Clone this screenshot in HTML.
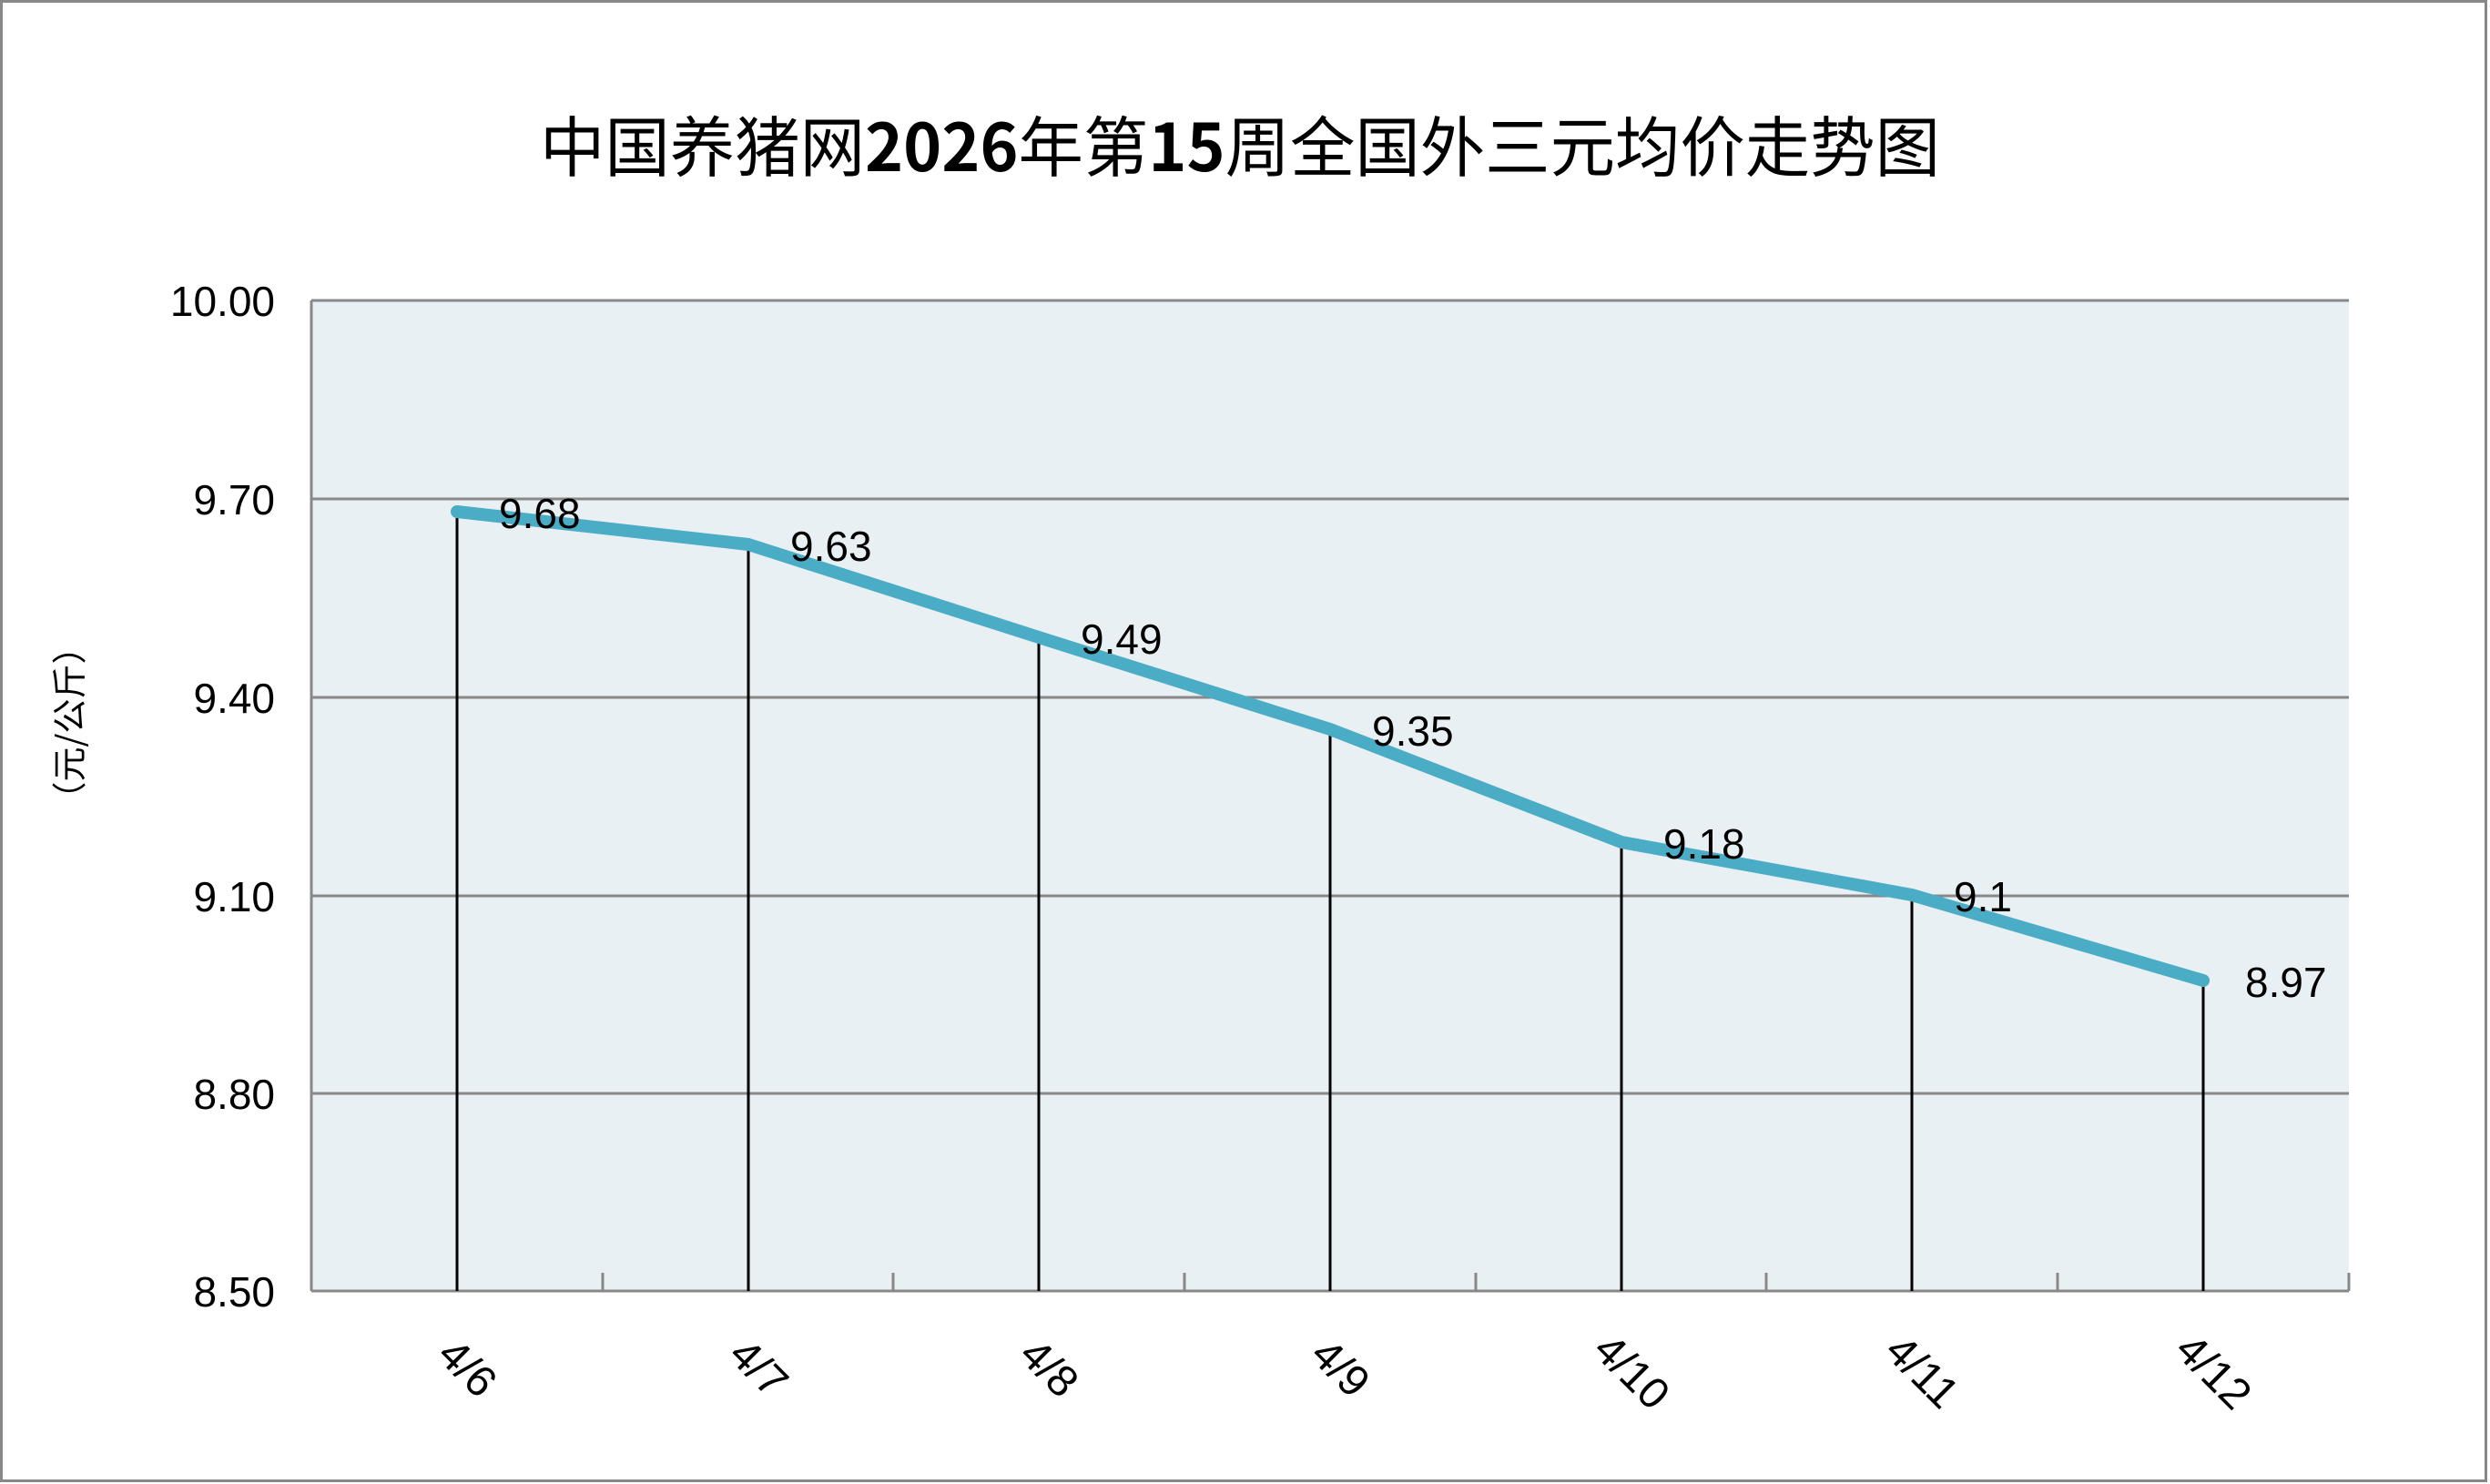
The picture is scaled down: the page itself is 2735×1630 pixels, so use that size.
<!DOCTYPE html>
<html><head><meta charset="utf-8"><style>
html,body{margin:0;padding:0;background:#fff;}
svg{display:block;}
text{font-family:"Liberation Sans","Noto Sans CJK SC",sans-serif;fill:#000;}
</style></head><body>
<svg width="2735" height="1630" viewBox="0 0 2735 1630" xmlns="http://www.w3.org/2000/svg">
<rect x="1.5" y="1.5" width="2729" height="1625" fill="#fff" stroke="#888" stroke-width="3"/>
<text x="1362" y="188" text-anchor="middle" font-size="72" textLength="1538" lengthAdjust="spacingAndGlyphs" style="font-family:'Noto Sans CJK SC',sans-serif">中国养猪网<tspan font-weight="bold">2026</tspan>年第<tspan font-weight="bold">15</tspan>周全国外三元均价走势图</text>
<rect x="342" y="330" width="2238" height="1088" fill="#e8f0f3"/>
<g stroke="#888" stroke-width="3">
<line x1="342" y1="330" x2="2580" y2="330"/>
<line x1="342" y1="548" x2="2580" y2="548"/>
<line x1="342" y1="766" x2="2580" y2="766"/>
<line x1="342" y1="984" x2="2580" y2="984"/>
<line x1="342" y1="1201" x2="2580" y2="1201"/>
<line x1="342" y1="1418" x2="2580" y2="1418"/>
<line x1="342" y1="330" x2="342" y2="1418"/>
<line x1="662" y1="1398" x2="662" y2="1418"/>
<line x1="981" y1="1398" x2="981" y2="1418"/>
<line x1="1301" y1="1398" x2="1301" y2="1418"/>
<line x1="1621" y1="1398" x2="1621" y2="1418"/>
<line x1="1940" y1="1398" x2="1940" y2="1418"/>
<line x1="2260" y1="1398" x2="2260" y2="1418"/>
<line x1="2580" y1="1398" x2="2580" y2="1418"/>
</g>
<g font-size="46" text-anchor="end">
<text x="302" y="347">10.00</text>
<text x="302" y="565">9.70</text>
<text x="302" y="783">9.40</text>
<text x="302" y="1001">9.10</text>
<text x="302" y="1218">8.80</text>
<text x="302" y="1435">8.50</text>
</g>
<text transform="translate(90,794) rotate(-90)" text-anchor="middle" font-size="38" style="font-family:'Noto Sans CJK SC',sans-serif">（元/公斤）</text>
<g stroke="#000" stroke-width="3">
<line x1="502" y1="562" x2="502" y2="1418"/>
<line x1="822" y1="598" x2="822" y2="1418"/>
<line x1="1141" y1="700" x2="1141" y2="1418"/>
<line x1="1461" y1="801" x2="1461" y2="1418"/>
<line x1="1781" y1="925" x2="1781" y2="1418"/>
<line x1="2100" y1="983" x2="2100" y2="1418"/>
<line x1="2420" y1="1077" x2="2420" y2="1418"/>
</g>
<polyline points="502,562 822,598 1141,700 1461,801 1781,925 2100,983 2420,1077" fill="none" stroke="#4bacc6" stroke-width="14" stroke-linecap="round" stroke-linejoin="round"/>
<g font-size="46" dominant-baseline="central">
<text x="548" y="564">9.68</text>
<text x="868" y="600">9.63</text>
<text x="1187" y="702">9.49</text>
<text x="1507" y="803">9.35</text>
<text x="1827" y="927">9.18</text>
<text x="2146" y="985">9.1</text>
<text x="2466" y="1079">8.97</text>
</g>
<g font-size="48" text-anchor="middle">
<text transform="translate(502,1514) rotate(45)">4/6</text>
<text transform="translate(822,1514) rotate(45)">4/7</text>
<text transform="translate(1141,1514) rotate(45)">4/8</text>
<text transform="translate(1461,1514) rotate(45)">4/9</text>
<text transform="translate(1781,1518) rotate(45)">4/10</text>
<text transform="translate(2100,1518) rotate(45)">4/11</text>
<text transform="translate(2420,1518) rotate(45)">4/12</text>
</g>
</svg>
</body></html>
